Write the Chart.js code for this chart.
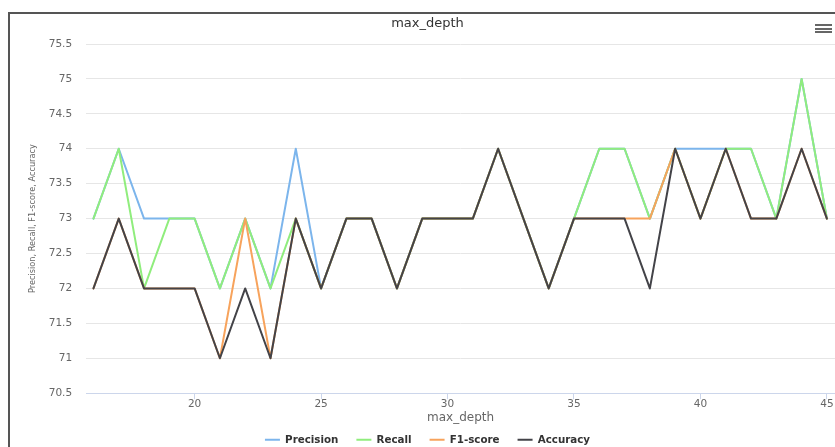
<!DOCTYPE html>
<html>
<head>
<meta charset="utf-8">
<script src="https://cdn.jsdelivr.net/npm/chart.js@4.4.1/dist/chart.umd.min.js"></script>
<style>
html, body { margin:0; padding:0; background:#fff; overflow:hidden; }
#wrap { position:relative; width:835px; height:447px; overflow:hidden; }
#frame { position:absolute; left:8px; top:12px; width:900px; height:500px; border-top:2px solid #555; border-left:2px solid #555; }
#menu { position:absolute; left:815px; top:24px; width:17px; }
#menu div { height:2px; background:#666; margin-bottom:1.5px; }
canvas { position:absolute; left:0; top:0; }
</style>
</head>
<body>
<div id="wrap">
  <div id="frame"></div>
  <canvas id="chart" width="835" height="455"></canvas>
  <div id="menu"><div></div><div></div><div></div></div>
</div>
<script>
// max_depth sweep, scores in %
const depths    = [16,17,18,19,20,21,22,23,24,25,26,27,28,29,30,31,32,33,34,35,36,37,38,39,40,41,42,43,44,45];
const precision = [73,74,73,73,73,72,73,72,74,72,73,73,72,73,73,73,74,73,72,73,74,74,73,74,74,74,74,73,75,73];
const recall    = [73,74,72,73,73,72,73,72,73,72,73,73,72,73,73,73,74,73,72,73,74,74,73,74,73,74,74,73,75,73];
const f1score   = [72,73,72,72,72,71,73,71,73,72,73,73,72,73,73,73,74,73,72,73,73,73,73,74,73,74,73,73,74,73];
const accuracy  = [72,73,72,72,72,71,72,71,73,72,73,73,72,73,73,73,74,73,72,73,73,73,72,74,73,74,73,73,74,73];
const xTicks = [20,25,30,35,40,45];
const yTicks = [70.5,71,71.5,72,72.5,73,73.5,74,74.5,75,75.5];

const FONT = '"DejaVu Sans", sans-serif';
const mkDs = (label, vals, color) => ({
    label, data: depths.map((d, i) => ({x: d, y: vals[i]})),
    borderColor: color, backgroundColor: color, borderWidth: 2,
    pointRadius: 0, pointHoverRadius: 0, tension: 0, fill: false,
    borderCapStyle: 'round', borderJoinStyle: 'round'
});

// listed last-to-first so Accuracy is painted on top; legend reversed back
new Chart(document.getElementById('chart'), {
    type: 'line',
    data: {datasets: [
        mkDs('Accuracy', accuracy, '#434348'),
        mkDs('F1-score', f1score, '#f7a35c'),
        mkDs('Recall', recall, '#90ed7d'),
        mkDs('Precision', precision, '#7cb5ec')
    ]},
    options: {
        responsive: false, animation: false,
        layout: {padding: {left: 20, right: 0, top: 0, bottom: 0}},
        plugins: {
            title: {display: true, text: 'max_depth', color: '#333', font: {family: FONT, size: 13, weight: 'normal'}, padding: {top: 16.2, bottom: 12.2}},
            legend: {position: 'bottom', reverse: true, labels: {usePointStyle: true, pointStyle: 'line', pointStyleWidth: 15, color: '#333', padding: 18, font: {family: FONT, size: 10.3, weight: 'bold'}}},
            tooltip: {enabled: false}
        },
        scales: {
            x: {
                type: 'linear', min: 15.71, max: 45.32,
                afterBuildTicks: ax => { ax.ticks = xTicks.map(v => ({value: v})); },
                grid: {drawOnChartArea: false, drawTicks: true, tickLength: 6, color: '#ccd6eb'},
                border: {color: '#ccd6eb', width: 1},
                ticks: {color: '#666', padding: -1, maxRotation: 0, font: {family: FONT, size: 10.5}},
                title: {display: true, text: 'max_depth', color: '#666', padding: {top: 1.2, bottom: -8.7}, font: {family: FONT, size: 12}}
            },
            y: {
                min: 70.5, max: 75.5,
                afterBuildTicks: ax => { ax.ticks = yTicks.map(v => ({value: v})); },
                grid: {color: '#e6e6e6', drawTicks: false},
                border: {display: false},
                ticks: {color: '#666', padding: 14, font: {family: FONT, size: 10.5}, callback: v => String(v)},
                title: {display: true, text: 'Precision, Recall, F1-score, Accuracy', color: '#666', padding: {top: 8.3, bottom: -3.4}, font: {family: FONT, size: 8.2}}
            }
        }
    }
});
</script>
</body>
</html>
